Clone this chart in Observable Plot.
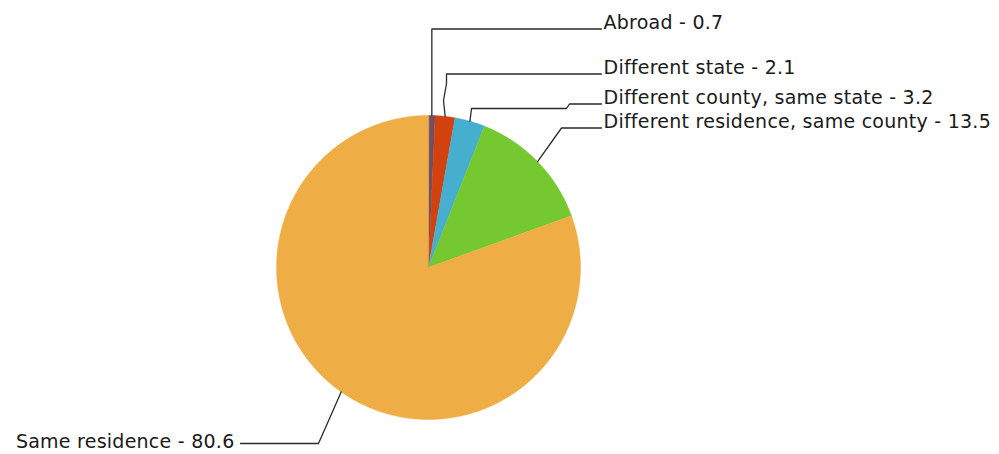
<!DOCTYPE html>
<html><head><meta charset="utf-8">
<script src="https://cdn.jsdelivr.net/npm/d3@7"></script>
<script src="https://cdn.jsdelivr.net/npm/@observablehq/plot@0.6"></script>
<style>body{margin:0;background:#fff} svg text{letter-spacing:0.25px}</style>
</head><body><div id="chart"></div>
<script>
// ---- data ----
const categories = ["Abroad", "Different state", "Different county, same state", "Different residence, same county", "Same residence"];
const values = [0.7, 2.1, 3.2, 13.5, 80.6];
const colors = ["#6e4f63", "#d2420f", "#46afd0", "#76c830", "#eeae45"];

// ---- layout (pixels) ----
const CX = 428, CY = 267, R = 152;
const toU = ([px, py]) => [(px - CX) / R, (CY - py) / R];
// per label: text anchor position, alignment, and leader elbows (null x => vertical from slice edge)
const labelLayout = [
  {tx: 603, ty: 28.5, anchor: "start", elbows: [[null, 28.5], [601, 28.5]]},
  {tx: 603, ty: 73.5, anchor: "start", elbows: [[443, 100], [446, 83], [446, 73.5], [601, 73.5]]},
  {tx: 603, ty: 103.5, anchor: "start", elbows: [[471, 108], [566, 108], [569, 103.5], [601, 103.5]]},
  {tx: 603, ty: 127.5, anchor: "start", elbows: [[561, 127.5], [601, 127.5]]},
  {tx: 234, ty: 447, anchor: "end", elbows: [[318, 443], [240, 443]]}
];

// ---- pie geometry from values ----
const arcs = d3.pie().sort(null).value(d => d.value)(categories.map((c, i) => ({label: c, value: values[i]})));
const slicePts = [];
arcs.forEach(a => {
  const label = a.data.label;
  slicePts.push({label, x: 0, y: 0});
  const n = Math.max(2, Math.ceil((a.endAngle - a.startAngle) / 0.005));
  for (let k = 0; k <= n; k++) {
    const t = a.startAngle + (a.endAngle - a.startAngle) * k / n;
    slicePts.push({label, x: Math.sin(t), y: Math.cos(t)});
  }
});

const leaderPts = [];
const labels = [];
arcs.forEach((a, i) => {
  const label = a.data.label;
  const mid = (a.startAngle + a.endAngle) / 2;
  const ex = Math.sin(mid), ey = Math.cos(mid);
  leaderPts.push({label, x: ex, y: ey});
  const L = labelLayout[i];
  L.elbows.forEach(([px, py]) => {
    const [ux, uy] = toU([px == null ? CX + ex * R : px, py]);
    leaderPts.push({label, x: ux, y: uy});
  });
  const [lx, ly] = toU([L.tx, L.ty]);
  labels.push({label, x: lx, y: ly, anchor: L.anchor, text: `${label} - ${a.data.value}`});
});

const chart = Plot.plot({
  width: 999,
  height: 454,
  margin: 0,
  x: {domain: [-1, 1], range: [CX - R, CX + R], axis: null},
  y: {domain: [-1, 1], range: [CY + R, CY - R], axis: null},
  color: {domain: categories, range: colors},
  style: {background: "#fff"},
  marks: [
    Plot.line(slicePts, {x: "x", y: "y", z: "label", fill: "label", stroke: "label", strokeWidth: 0.5, curve: "linear-closed"}),
    Plot.line(leaderPts, {x: "x", y: "y", z: "label", stroke: "#2a2a2a", strokeWidth: 1.3}),
    Plot.text(labels.filter(d => d.anchor === "start"), {x: "x", y: "y", text: "text", textAnchor: "start", lineAnchor: "bottom", fontSize: 19, fontFamily: "DejaVu Sans", fill: "#1a1a1a"}),
    Plot.text(labels.filter(d => d.anchor === "end"), {x: "x", y: "y", text: "text", textAnchor: "end", lineAnchor: "bottom", fontSize: 19, fontFamily: "DejaVu Sans", fill: "#1a1a1a"})
  ]
});
document.getElementById("chart").append(chart);
</script>
</body></html>
